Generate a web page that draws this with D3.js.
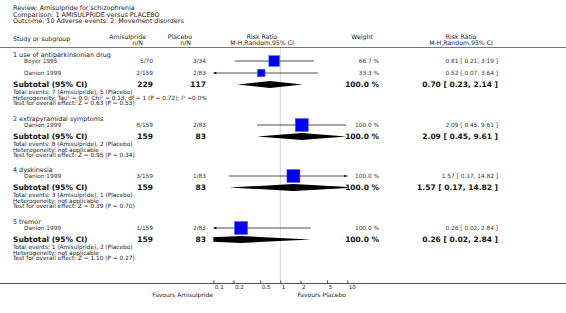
<!DOCTYPE html>
<html>
<head>
<meta charset="utf-8">
<script src="https://cdn.jsdelivr.net/npm/d3@7"></script>
<style>
  body { margin: 0; background: #fff; }
  svg { display: block; font-family: "DejaVu Sans", Verdana, sans-serif; }
</style>
</head>
<body>
<div id="chart"></div>
<script>
// titles
const titleLines = [
    'Review:  Amisulpride for schizophrenia',
    'Comparison:  1 AMISULPRIDE versus PLACEBO',
    'Outcome:  10 Adverse events: 2. Movement disorders'
];

// subgroups
const groupNames = ['1 use of antiparkinsonian drug', '2 extrapyramidal symptoms', '4 dyskinesia', '5 tremor'];
const groupAmiTotal = [229, 159, 159, 159];
const groupPlaTotal = [117, 83, 83, 83];
const groupRR = [0.70, 2.09, 1.57, 0.26];
const groupLo = [0.23, 0.45, 0.17, 0.02];
const groupHi = [2.14, 9.61, 14.82, 2.84];
const groupHet = [
    'Heterogeneity: Tau\u00b2 = 0.0; Chi\u00b2 = 0.13, df = 1 (P = 0.72); I\u00b2 =0.0%',
    'Heterogeneity: not applicable',
    'Heterogeneity: not applicable',
    'Heterogeneity: not applicable'
];
const groupTest = [
    'Test for overall effect: Z = 0.63 (P = 0.53)',
    'Test for overall effect: Z = 0.95 (P = 0.34)',
    'Test for overall effect: Z = 0.39 (P = 0.70)',
    'Test for overall effect: Z = 1.10 (P = 0.27)'
];

// studies
const studyNames = ['Boyer 1995', 'Danion 1999', 'Danion 1999', 'Danion 1999', 'Danion 1999'];
const studyGroup = [0, 0, 1, 2, 3];
const amiEvents = [5, 2, 8, 3, 1];
const amiTotal = [70, 159, 159, 159, 159];
const plaEvents = [3, 2, 2, 1, 2];
const plaTotal = [34, 83, 83, 83, 83];
const weights = [66.7, 33.3, 100.0, 100.0, 100.0];
const rr = [0.81, 0.52, 2.09, 1.57, 0.26];
const rrLo = [0.21, 0.07, 0.45, 0.17, 0.02];
const rrHi = [3.19, 3.64, 9.61, 14.82, 2.84];

// axis ticks
const tickValues = [0.1, 0.2, 0.5, 1, 2, 5, 10];

const width = 566, height = 313;
const groupY = [55, 119, 170, 222]; // row layout of each subgroup header

const svg = d3.select('#chart').append('svg')
    .attr('width', width)
    .attr('height', height);

svg.append('rect').attr('width', width).attr('height', height).attr('fill', '#fff');

const x = d3.scaleLog().domain([0.1, 10]).range([213.3, 347.3]);
const f2 = d3.format('.2f');
const ciText = (m, l, h) => `${f2(m)} [ ${f2(l)}, ${f2(h)} ]`;

// clip for plot area
svg.append('clipPath').attr('id', 'plotClip')
    .append('rect').attr('x', x.range()[0]).attr('y', 0)
    .attr('width', x.range()[1] - x.range()[0]).attr('height', height);

// title
svg.selectAll('.title').data(titleLines).enter().append('text')
    .attr('x', 13).attr('y', (d, i) => 10 + i * 6.6)
    .attr('font-size', 6.4).attr('fill', '#222')
    .text(d => d);

// column headers
const hdr = svg.append('g').attr('font-size', 6.2).attr('fill', '#222');
hdr.append('text').attr('x', 13).attr('y', 40.5).text('Study or subgroup');
hdr.append('text').attr('x', 146).attr('y', 38.5).attr('text-anchor', 'end').text('Amisulpride');
hdr.append('text').attr('x', 143).attr('y', 44.5).attr('text-anchor', 'end').text('n/N');
hdr.append('text').attr('x', 192).attr('y', 38.5).attr('text-anchor', 'end').text('Placebo');
hdr.append('text').attr('x', 191).attr('y', 44.5).attr('text-anchor', 'end').text('n/N');
hdr.append('text').attr('x', 262).attr('y', 38.5).attr('text-anchor', 'middle').text('Risk Ratio');
hdr.append('text').attr('x', 262).attr('y', 44.5).attr('text-anchor', 'middle').text('M-H,Random,95% CI');
hdr.append('text').attr('x', 362).attr('y', 38.5).attr('text-anchor', 'middle').text('Weight');
hdr.append('text').attr('x', 461).attr('y', 38.5).attr('text-anchor', 'middle').text('Risk Ratio');
hdr.append('text').attr('x', 461).attr('y', 44.5).attr('text-anchor', 'middle').text('M-H,Random,95% CI');

svg.append('line').attr('x1', 0).attr('x2', width).attr('y1', 47.5).attr('y2', 47.5)
    .attr('stroke', '#777').attr('stroke-width', 1);

// line of no effect
svg.append('line').attr('x1', x(1)).attr('x2', x(1)).attr('y1', 48).attr('y2', 283)
    .attr('stroke', '#d4d4d4').attr('stroke-width', 1);

// compute row positions
const studyY = [];
const subY = [];
groupNames.forEach((g, gi) => {
    let y = groupY[gi] + 6;
    studyNames.forEach((s, si) => {
        if (studyGroup[si] === gi) { studyY[si] = y; y += 12; }
    });
    subY[gi] = y - 12 + 11.5;
});

// arrow helper
function arrow(g, xTip, y, dir) {
    g.append('path')
        .attr('d', `M${xTip},${y} L${xTip - dir * 3},${y - 1.3} L${xTip - dir * 3},${y + 1.3} Z`)
        .attr('fill', '#000');
}

// subgroup headers + stats
groupNames.forEach((g, gi) => {
    svg.append('text').attr('x', 13).attr('y', groupY[gi]).attr('dy', '0.35em')
        .attr('font-size', 6.4).attr('fill', '#222').text(g);

    const ya = subY[gi];
    const sub = svg.append('g').attr('font-weight', 'bold').attr('font-size', 7.5).attr('fill', '#111');
    sub.append('text').attr('x', 13).attr('y', ya).attr('dy', '0.35em').text('Subtotal (95% CI)');
    sub.append('text').attr('x', 153).attr('y', ya).attr('dy', '0.35em').attr('text-anchor', 'end').text(groupAmiTotal[gi]);
    sub.append('text').attr('x', 206).attr('y', ya).attr('dy', '0.35em').attr('text-anchor', 'end').text(groupPlaTotal[gi]);
    sub.append('text').attr('x', 379).attr('y', ya).attr('dy', '0.35em').attr('text-anchor', 'end').text('100.0 %');
    sub.append('text').attr('x', 498).attr('y', ya).attr('dy', '0.35em').attr('text-anchor', 'end')
        .text(ciText(groupRR[gi], groupLo[gi], groupHi[gi]));

    // diamond
    const h = 3.5;
    svg.append('path')
        .attr('clip-path', 'url(#plotClip)')
        .attr('d', `M${x(groupLo[gi])},${ya} L${x(groupRR[gi])},${ya - h} L${x(groupHi[gi])},${ya} L${x(groupRR[gi])},${ya + h} Z`)
        .attr('fill', '#000');

    const ami = d3.sum(amiEvents.filter((d, i) => studyGroup[i] === gi));
    const pla = d3.sum(plaEvents.filter((d, i) => studyGroup[i] === gi));
    const lines = [`Total events: ${ami} (Amisulpride), ${pla} (Placebo)`, groupHet[gi], groupTest[gi]];
    svg.selectAll(null).data(lines).enter().append('text')
        .attr('x', 13).attr('y', (d, i) => ya + 7.8 + i * 5.5).attr('dy', '0.35em')
        .attr('font-size', 5.8).attr('fill', '#222')
        .text(d => d);
});

// studies
studyNames.forEach((s, si) => {
    const y = studyY[si];
    const g = svg.append('g').attr('font-size', 5.8).attr('fill', '#333');
    g.append('text').attr('x', 24).attr('y', y).attr('dy', '0.35em').text(s);
    g.append('text').attr('x', 153).attr('y', y).attr('dy', '0.35em').attr('text-anchor', 'end').text(`${amiEvents[si]}/${amiTotal[si]}`);
    g.append('text').attr('x', 206).attr('y', y).attr('dy', '0.35em').attr('text-anchor', 'end').text(`${plaEvents[si]}/${plaTotal[si]}`);
    g.append('text').attr('x', 379).attr('y', y).attr('dy', '0.35em').attr('text-anchor', 'end').text(d3.format('.1f')(weights[si]) + ' %');
    g.append('text').attr('x', 498).attr('y', y).attr('dy', '0.35em').attr('text-anchor', 'end').text(ciText(rr[si], rrLo[si], rrHi[si]));

    // CI line
    const [d0, d1] = x.domain();
    const xl = x(Math.max(rrLo[si], d0));
    const xr = x(Math.min(rrHi[si], d1));
    svg.append('line').attr('x1', xl).attr('x2', xr).attr('y1', y).attr('y2', y)
        .attr('stroke', '#222').attr('stroke-width', 0.8);
    if (rrLo[si] < d0) arrow(svg, xl, y, -1);
    if (rrHi[si] > d1) arrow(svg, xr, y, 1);

    // square, area by weight
    const side = 13 * Math.sqrt(weights[si] / 100);
    svg.append('rect')
        .attr('x', x(rr[si]) - side / 2).attr('y', y - side / 2)
        .attr('width', side).attr('height', side)
        .attr('fill', '#0000ff').attr('stroke', '#5a5aff').attr('stroke-width', 0.6);
    svg.append('line').attr('x1', x(rr[si])).attr('x2', x(rr[si]))
        .attr('y1', y - 1.5).attr('y2', y + 1.5)
        .attr('stroke', '#000').attr('stroke-width', 0.7);
});

// bottom axis
svg.append('line').attr('x1', 0).attr('x2', width).attr('y1', 283.5).attr('y2', 283.5)
    .attr('stroke', '#555').attr('stroke-width', 1);

const axis = svg.append('g')
    .attr('transform', 'translate(0,283.5)')
    .call(d3.axisBottom(x).tickValues(tickValues).tickSizeInner(-3).tickSizeOuter(0)
        .tickPadding(1.5).tickFormat(d3.format('')));
axis.select('.domain').remove();
axis.selectAll('.tick line').attr('stroke', '#444');
axis.selectAll('.tick text')
    .attr('font-family', '"DejaVu Sans", sans-serif')
    .attr('font-size', 5.6).attr('fill', '#222')
    .attr('text-anchor', 'start').attr('x', 1);

svg.append('text').attr('x', 213).attr('y', 297).attr('text-anchor', 'end')
    .attr('font-size', 6).attr('fill', '#222').text('Favours Amisulpride');
svg.append('text').attr('x', 346).attr('y', 297).attr('text-anchor', 'end')
    .attr('font-size', 6).attr('fill', '#222').text('Favours Placebo');
</script>
</body>
</html>
